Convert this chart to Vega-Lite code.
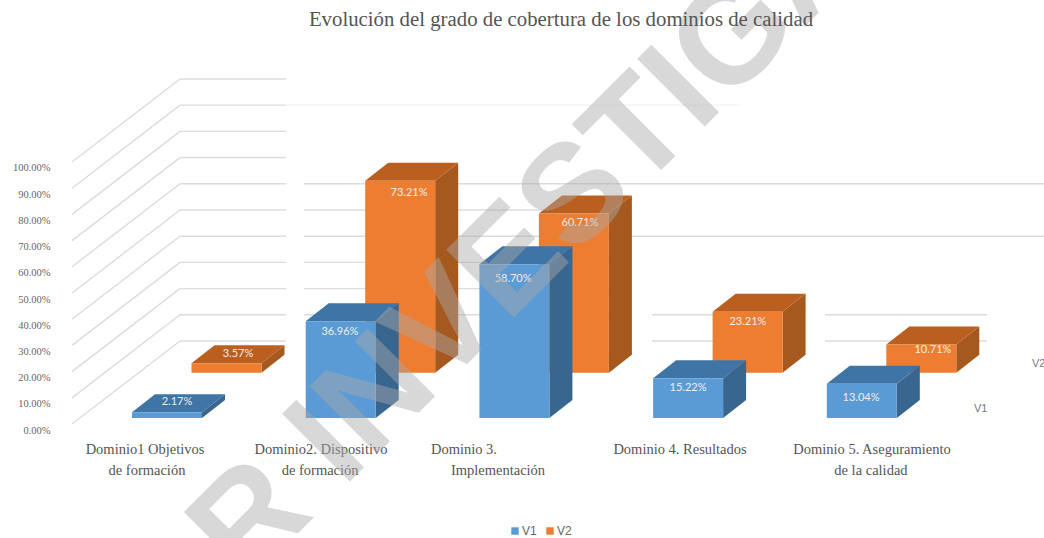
{
  "$schema": "https://vega.github.io/schema/vega-lite/v6.json",
  "width": 1044,
  "height": 538,
  "autosize": "none",
  "padding": 0,
  "background": "white",
  "title": {
    "text": "Evolución del grado de cobertura de los dominios de calidad",
    "font": "Liberation Serif",
    "fontSize": 20.8,
    "fontWeight": "normal",
    "color": "#555555",
    "anchor": "middle",
    "dx": 39,
    "dy": 31,
    "offset": 0
  },
  "data": {
    "values": [
      {"dominio": "Dominio 1", "orden": 0, "serie": "V1", "valor": 2.17},
      {"dominio": "Dominio 2", "orden": 1, "serie": "V1", "valor": 36.96},
      {"dominio": "Dominio 3", "orden": 2, "serie": "V1", "valor": 58.70},
      {"dominio": "Dominio 4", "orden": 3, "serie": "V1", "valor": 15.22},
      {"dominio": "Dominio 5", "orden": 4, "serie": "V1", "valor": 13.04},
      {"dominio": "Dominio 1", "orden": 0, "serie": "V2", "valor": 3.57},
      {"dominio": "Dominio 2", "orden": 1, "serie": "V2", "valor": 73.21},
      {"dominio": "Dominio 3", "orden": 2, "serie": "V2", "valor": 60.71},
      {"dominio": "Dominio 4", "orden": 3, "serie": "V2", "valor": 23.21},
      {"dominio": "Dominio 5", "orden": 4, "serie": "V2", "valor": 10.71}
    ]
  },
  "transform": [
    {"calculate": "datum.orden + (datum.serie === 'V2' ? 0.3425 : 0)", "as": "izq"},
    {"calculate": "datum.izq + 0.403", "as": "der"},
    {"calculate": "datum.serie === 'V2' ? 21.9 : 4.58", "as": "base"},
    {"calculate": "datum.base + datum.valor", "as": "cima"},
    {"calculate": "format(datum.valor, '.2f') + '%'", "as": "etiqueta"},
    {"calculate": "datum.izq + (datum.serie === 'V2' ? [0.2675, 0.2525, 0.2365, 0.2035, 0.2685] : [0.259, 0.197, 0.194, 0.201, 0.197])[datum.orden]", "as": "etq_x"},
    {"calculate": "datum.cima + (datum.serie === 'V2' ? [3.5, -4.7, -3.7, -3.9, -2.1] : [3.9, -4.1, -5.6, -3.8, -5.4])[datum.orden]", "as": "etq_y"},
    {"calculate": "[0, 1]", "as": "fondo"},
    {"flatten": ["fondo"]},
    {"calculate": "datum.der + 0.1324 * datum.fondo", "as": "lat_x"},
    {"calculate": "datum.izq + 0.1324 * datum.fondo", "as": "sup_x"},
    {"calculate": "datum.der + 0.1324 * datum.fondo", "as": "sup_x2"},
    {"calculate": "datum.base + 6.87 * datum.fondo", "as": "lat_y"},
    {"calculate": "datum.cima + 6.87 * datum.fondo", "as": "lat_y2"}
  ],
  "layer": [
    {
      "description": "Paredes del gráfico: líneas de nivel",
      "data": {
        "values": [
          {"nivel": 100, "tramo": "diagonal"}, {"nivel": 90, "tramo": "diagonal"}, {"nivel": 80, "tramo": "diagonal"},
          {"nivel": 70, "tramo": "diagonal"}, {"nivel": 60, "tramo": "diagonal"}, {"nivel": 50, "tramo": "diagonal"},
          {"nivel": 40, "tramo": "diagonal"}, {"nivel": 30, "tramo": "diagonal"}, {"nivel": 20, "tramo": "diagonal"},
          {"nivel": 10, "tramo": "diagonal"}, {"nivel": 0, "tramo": "diagonal"},
          {"nivel": 100, "tramo": "pared"}, {"nivel": 90, "tramo": "pared"}, {"nivel": 80, "tramo": "pared"},
          {"nivel": 70, "tramo": "pared"}, {"nivel": 60, "tramo": "pared"}, {"nivel": 50, "tramo": "pared"},
          {"nivel": 40, "tramo": "pared"}, {"nivel": 30, "tramo": "pared"}, {"nivel": 20, "tramo": "pared"},
          {"nivel": 10, "tramo": "pared"}, {"nivel": 0, "tramo": "pared"},
          {"nivel": 90, "tramo": "tenue"},
          {"nivel": 60, "tramo": "centro"}, {"nivel": 50, "tramo": "centro"}, {"nivel": 40, "tramo": "centro"},
          {"nivel": 30, "tramo": "centro"}, {"nivel": 20, "tramo": "centro"}, {"nivel": 10, "tramo": "centro"},
          {"nivel": 60, "tramo": "derecha"}, {"nivel": 40, "tramo": "derecha"},
          {"nivel": 10, "tramo": "cuarto"}, {"nivel": 0, "tramo": "cuarto"},
          {"nivel": 10, "tramo": "quinto"}, {"nivel": 0, "tramo": "quinto"}
        ]
      },
      "transform": [
        {"calculate": "{'diagonal': -0.3454, 'pared': 0.2763, 'tenue': 0.8866, 'centro': 0.9902, 'derecha': 2.8785, 'cuarto': 2.9937, 'quinto': 3.9896}[datum.tramo]", "as": "ini"},
        {"calculate": "{'diagonal': 0.2763, 'pared': 0.8866, 'tenue': 3.5003, 'centro': 2.8785, 'derecha': 5.2504, 'cuarto': 3.3449, 'quinto': 4.9223}[datum.tramo]", "as": "fin"},
        {"calculate": "datum.nivel + 33.97", "as": "altura"},
        {"calculate": "datum.tramo === 'diagonal' ? datum.nivel + 2.29 : datum.altura", "as": "altura_ini"}
      ],
      "mark": {"type": "rule", "strokeWidth": 1.4},
      "encoding": {
        "x": {"field": "ini", "type": "quantitative", "scale": {"domain": [-0.76, 5.2504], "nice": false, "zero": false}, "axis": null},
        "x2": {"field": "fin"},
        "y": {"field": "altura_ini", "type": "quantitative", "scale": {"domain": [-41.2, 164.1], "nice": false, "zero": false},
          "axis": {"orient": "left", "title": null, "values": [0, 10, 20, 30, 40, 50, 60, 70, 80, 90, 100], "labelExpr": "format(datum.value, '.2f') + '%'", "domain": false, "ticks": false, "grid": false, "labelPadding": -50}},
        "y2": {"field": "altura"},
        "color": {"condition": {"test": "datum.tramo === 'tenue'", "value": "#f4f4f4"}, "value": "#dcdcdc"}
      }
    },
    {
      "description": "Serie V2: caras lateral, superior y frontal",
      "transform": [{"filter": "datum.serie === 'V2'"}],
      "layer": [
        {
          "mark": {"type": "area", "color": "#a5591e"},
          "encoding": {
            "x": {"field": "lat_x", "type": "quantitative", "scale": {"domain": [-0.76, 5.2504], "nice": false, "zero": false}, "axis": null},
            "y": {"field": "lat_y", "type": "quantitative", "scale": {"domain": [-41.2, 164.1], "nice": false, "zero": false}},
            "y2": {"field": "lat_y2"},
            "detail": {"field": "dominio"}
          }
        },
        {
          "mark": {"type": "area", "orient": "horizontal", "color": "#ba5f1f"},
          "encoding": {
            "x": {"field": "sup_x", "type": "quantitative", "scale": {"domain": [-0.76, 5.2504], "nice": false, "zero": false}, "axis": null},
            "x2": {"field": "sup_x2"},
            "y": {"field": "lat_y2", "type": "quantitative", "scale": {"domain": [-41.2, 164.1], "nice": false, "zero": false}},
            "detail": {"field": "dominio"}
          }
        },
        {
          "transform": [{"filter": "datum.fondo === 0"}],
          "mark": {"type": "rect"},
          "encoding": {
            "x": {"field": "izq", "type": "quantitative", "scale": {"domain": [-0.76, 5.2504], "nice": false, "zero": false}, "axis": null},
            "x2": {"field": "der"},
            "y": {"field": "base", "type": "quantitative", "scale": {"domain": [-41.2, 164.1], "nice": false, "zero": false}},
            "y2": {"field": "cima"},
            "color": {"field": "serie", "type": "nominal", "scale": {"domain": ["V1", "V2"], "range": ["#5b9bd5", "#ed7d31"]},
              "legend": {"title": null, "orient": "none", "legendX": 509, "legendY": 525, "direction": "horizontal", "columns": 2, "symbolType": "square", "symbolSize": 55, "symbolStrokeWidth": 0, "labelFont": "Liberation Sans", "labelFontSize": 12, "labelColor": "#666666", "labelOffset": 1, "columnPadding": 7}}
          }
        }
      ]
    },
    {
      "description": "Serie V1: caras lateral, superior y frontal",
      "transform": [{"filter": "datum.serie === 'V1'"}],
      "layer": [
        {
          "mark": {"type": "area", "color": "#38668f"},
          "encoding": {
            "x": {"field": "lat_x", "type": "quantitative", "scale": {"domain": [-0.76, 5.2504], "nice": false, "zero": false}, "axis": null},
            "y": {"field": "lat_y", "type": "quantitative", "scale": {"domain": [-41.2, 164.1], "nice": false, "zero": false}},
            "y2": {"field": "lat_y2"},
            "detail": {"field": "dominio"}
          }
        },
        {
          "mark": {"type": "area", "orient": "horizontal", "color": "#3f74a6"},
          "encoding": {
            "x": {"field": "sup_x", "type": "quantitative", "scale": {"domain": [-0.76, 5.2504], "nice": false, "zero": false}, "axis": null},
            "x2": {"field": "sup_x2"},
            "y": {"field": "lat_y2", "type": "quantitative", "scale": {"domain": [-41.2, 164.1], "nice": false, "zero": false}},
            "detail": {"field": "dominio"}
          }
        },
        {
          "transform": [{"filter": "datum.fondo === 0"}],
          "mark": {"type": "rect"},
          "encoding": {
            "x": {"field": "izq", "type": "quantitative", "scale": {"domain": [-0.76, 5.2504], "nice": false, "zero": false}, "axis": null},
            "x2": {"field": "der"},
            "y": {"field": "base", "type": "quantitative", "scale": {"domain": [-41.2, 164.1], "nice": false, "zero": false}},
            "y2": {"field": "cima"},
            "color": {"field": "serie", "type": "nominal", "scale": {"domain": ["V1", "V2"], "range": ["#5b9bd5", "#ed7d31"]}}
          }
        }
      ]
    },
    {
      "description": "Valores de cada barra",
      "transform": [{"filter": "datum.fondo === 0"}],
      "mark": {"type": "text", "font": "Lato", "fontSize": 11, "color": "#f2ede6", "align": "center", "baseline": "middle"},
      "encoding": {
        "x": {"field": "etq_x", "type": "quantitative", "scale": {"domain": [-0.76, 5.2504], "nice": false, "zero": false}, "axis": null},
        "y": {"field": "etq_y", "type": "quantitative", "scale": {"domain": [-41.2, 164.1], "nice": false, "zero": false}},
        "text": {"field": "etiqueta"}
      }
    },
    {
      "description": "Nombres de los dominios",
      "data": {
        "values": [
          {"orden": 0, "fila": 0, "texto": "Dominio1 Objetivos"},
          {"orden": 0, "fila": 1, "texto": "de formación"},
          {"orden": 1, "fila": 0, "texto": "Dominio2. Dispositivo"},
          {"orden": 1, "fila": 1, "texto": "de formación"},
          {"orden": 2, "fila": 0, "texto": "Dominio 3."},
          {"orden": 2, "fila": 1, "texto": "Implementación"},
          {"orden": 3, "fila": 0, "texto": "Dominio 4. Resultados"},
          {"orden": 4, "fila": 0, "texto": "Dominio 5. Aseguramiento"},
          {"orden": 4, "fila": 1, "texto": "de la calidad"}
        ]
      },
      "transform": [
        {"calculate": "[[0.075, 0.086], [1.088, 1.083], [1.911, 2.107], [3.155, 3.155], [4.26, 4.254]][datum.orden][datum.fila]", "as": "pos"},
        {"calculate": "-7.8 - 7.7 * datum.fila", "as": "alt"}
      ],
      "mark": {"type": "text", "font": "Liberation Serif", "fontSize": 14.5, "color": "#555555", "align": "center", "baseline": "middle"},
      "encoding": {
        "x": {"field": "pos", "type": "quantitative", "scale": {"domain": [-0.76, 5.2504], "nice": false, "zero": false}, "axis": null},
        "y": {"field": "alt", "type": "quantitative", "scale": {"domain": [-41.2, 164.1], "nice": false, "zero": false}},
        "text": {"field": "texto"}
      }
    },
    {
      "description": "Rótulos del eje de profundidad",
      "data": {"values": [{"serie": "V1"}, {"serie": "V2"}]},
      "transform": [
        {"calculate": "datum.serie === 'V2' ? 5.181 : 4.847", "as": "pos"},
        {"calculate": "datum.serie === 'V2' ? 25.2 : 8", "as": "alt"}
      ],
      "mark": {"type": "text", "font": "Liberation Sans", "fontSize": 11, "color": "#777777", "align": "left", "baseline": "middle"},
      "encoding": {
        "x": {"field": "pos", "type": "quantitative", "scale": {"domain": [-0.76, 5.2504], "nice": false, "zero": false}, "axis": null},
        "y": {"field": "alt", "type": "quantitative", "scale": {"domain": [-41.2, 164.1], "nice": false, "zero": false}},
        "text": {"field": "serie"}
      }
    },
    {
      "description": "Marca de agua diagonal",
      "data": {"values": [{"texto": "FOR INVESTIGACIÓN", "pos": 2.602, "alt": 92.4}]},
      "mark": {"type": "text", "clip": true, "font": "Liberation Sans", "fontWeight": "bold", "fontSize": 139, "angle": 315, "color": "#aaaaaa", "opacity": 0.45, "align": "center", "baseline": "middle"},
      "encoding": {
        "x": {"field": "pos", "type": "quantitative", "scale": {"domain": [-0.76, 5.2504], "nice": false, "zero": false}, "axis": null},
        "y": {"field": "alt", "type": "quantitative", "scale": {"domain": [-41.2, 164.1], "nice": false, "zero": false}},
        "text": {"field": "texto"}
      }
    }
  ],
  "config": {
    "view": {"stroke": null},
    "axis": {"labelFont": "Liberation Serif", "labelFontSize": 10.5, "labelColor": "#666666"}
  }
}
